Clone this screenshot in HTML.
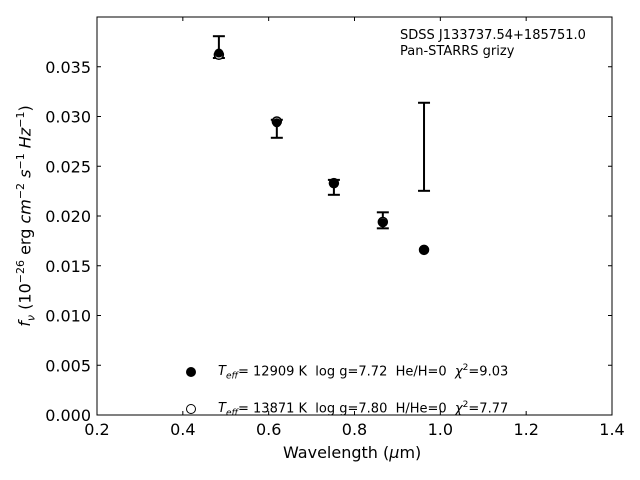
<!DOCTYPE html>
<html><head><meta charset="utf-8"><style>
body{margin:0;background:#fff}
svg{display:block;font-family:"DejaVu Sans","Liberation Sans",sans-serif}
</style></head><body>
<svg id="chart" width="640" height="480"></svg>
<script>
const wavelengths=[0.484,0.619,0.752,0.866,0.962];
const obsLow=[0.03588,0.02786,0.02213,0.01876,0.02253];
const obsHigh=[0.03807,0.02967,0.02363,0.02037,0.03138];
const modelFilled=[0.03638,0.02937,0.02333,0.01931,0.01659];
const modelOpen=[0.0362,0.0295,0.0233,0.0194,0.0166];
const xTicks=[0.2,0.4,0.6,0.8,1.0,1.2,1.4];
const xTickLabels=["0.2","0.4","0.6","0.8","1.0","1.2","1.4"];
const yTicks=[0,0.005,0.01,0.015,0.02,0.025,0.03,0.035];
const yTickLabels=["0.000","0.005","0.010","0.015","0.020","0.025","0.030","0.035"];
const L=97,R=612,T=17,B=415;
const xs=v=>L+(v-0.2)/1.2*(R-L);
const ys=v=>B-v/0.04*(B-T);
const svg=document.getElementById('chart');
const NS='http://www.w3.org/2000/svg';
function mk(tag,attrs,parent){const e=document.createElementNS(NS,tag);for(const k in attrs)e.setAttribute(k,attrs[k]);(parent||svg).appendChild(e);return e;}
const frame=mk('rect',{x:L,y:T,width:R-L,height:B-T,fill:'none',stroke:'#000','stroke-width':1});


xTicks.forEach((t,i)=>{
 const x=xs(t);
 const l=mk('line',{x1:x,x2:x,y1:B,y2:B-4,stroke:'#000'});
 
 
 const l2=mk('line',{x1:x,x2:x,y1:T,y2:T+4,stroke:'#000'});
 
 
 const tx=mk('text',{x:x,y:B+20,'text-anchor':'middle','font-size':16});
 tx.textContent=xTickLabels[i];
 
 
});
yTicks.forEach((t,i)=>{
 const y=ys(t);
 const l=mk('line',{x1:L,x2:L+4,y1:y,y2:y,stroke:'#000'});
 
 
 const l2=mk('line',{x1:R,x2:R-4,y1:y,y2:y,stroke:'#000'});
 
 
 const tx=mk('text',{x:L-6,y:y+6,'text-anchor':'end','font-size':16});
 tx.textContent=yTickLabels[i];
 
 
});
wavelengths.forEach((w,i)=>{
 const x=xs(w),y1=ys(obsHigh[i]),y2=ys(obsLow[i]);
 const g=mk('g',{stroke:'#000','stroke-width':2});
 
 
 mk('line',{x1:x,x2:x,y1:y1,y2:y2},g);
 mk('line',{x1:x-6,x2:x+6,y1:y1,y2:y1},g);
 mk('line',{x1:x-6,x2:x+6,y1:y2,y2:y2},g);
});
wavelengths.forEach((w,i)=>{
 const c=mk('circle',{cx:xs(w),cy:ys(modelOpen[i]),r:4.5,fill:'#fff',stroke:'#000','stroke-width':1.5});
 
 
});
wavelengths.forEach((w,i)=>{
 const c=mk('circle',{cx:xs(w),cy:ys(modelFilled[i]),r:4.5,fill:'#000'});
 
 
});
</script>
<div style="position:absolute;left:0;top:0;width:640px;height:480px;pointer-events:none;font-family:'DejaVu Sans','Liberation Sans',sans-serif;color:#000">
 <div style="position:absolute;left:400px;top:28px;font-size:13px;line-height:16px">SDSS J133737.54+185751.0<br>Pan-STARRS grizy</div>
 <div style="position:absolute;left:186px;top:354px;font-size:13px;line-height:28px;white-space:nowrap">
  <div><span style="display:inline-block;width:10px;height:10px;border-radius:50%;background:#000;vertical-align:middle;margin-right:22px"></span><i>T<sub style="font-size:9px">eff</sub></i>= 12909 K&nbsp; log g=7.72&nbsp; He/H=0&nbsp; <i>χ</i><sup style="font-size:9px">2</sup>=9.03</div>
  <div><span style="display:inline-block;width:8px;height:8px;border-radius:50%;border:1.5px solid #000;vertical-align:middle;margin-right:22px"></span><i>T<sub style="font-size:9px">eff</sub></i>= 13871 K&nbsp; log g=7.80&nbsp; H/He=0&nbsp; <i>χ</i><sup style="font-size:9px">2</sup>=7.77</div>
 </div>
 <div style="position:absolute;left:283px;top:443px;font-size:16px">Wavelength (<i>μ</i>m)</div>
 <div style="position:absolute;left:26px;top:216px;font-size:16px;white-space:nowrap;transform:translate(-50%,-50%) rotate(-90deg)"><i>f<sub style="font-size:11px">ν</sub></i> (10<sup style="font-size:11px">−26</sup> erg <i>cm</i><sup style="font-size:11px">−2</sup> <i>s</i><sup style="font-size:11px">−1</sup> <i>Hz</i><sup style="font-size:11px">−1</sup>)</div>
</div>
</body></html>
